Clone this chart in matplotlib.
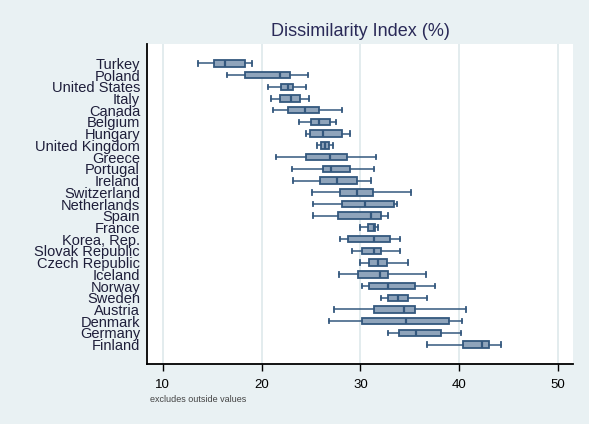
import matplotlib
matplotlib.use("Agg")
import matplotlib.pyplot as plt

countries = ["Turkey", "Poland", "United States", "Italy", "Canada", "Belgium",
             "Hungary", "United Kingdom", "Greece", "Portugal", "Ireland",
             "Switzerland", "Netherlands", "Spain", "France", "Korea, Rep.",
             "Slovak Republic", "Czech Republic", "Iceland", "Norway", "Sweden",
             "Austria", "Denmark", "Germany", "Finland"]
whisker_low = [13.6, 16.45, 20.6, 20.9, 21.2, 23.8, 24.5, 25.6, 21.45, 23.05, 23.15,
               25.05, 25.2, 25.2, 29.95, 27.9, 29.15, 30.0, 27.8, 30.2, 32.1,
               27.35, 26.8, 32.8, 36.75]
q1 = [15.15, 18.3, 22.0, 21.9, 22.7, 25.0, 24.9, 26.05, 24.45, 26.2, 25.9,
      27.9, 28.1, 27.75, 30.8, 28.75, 30.15, 30.9, 29.75, 30.9, 32.8,
      31.35, 30.2, 33.9, 40.35]
median = [16.3, 21.9, 22.7, 23.0, 24.35, 25.8, 26.2, 26.4, 26.9, 27.0, 27.65,
          29.65, 30.5, 31.05, 31.35, 31.35, 31.4, 31.8, 31.95, 32.8, 33.8,
          34.35, 34.65, 35.6, 42.25]
q3 = [18.35, 22.9, 23.2, 23.9, 25.8, 26.9, 28.1, 26.8, 28.65, 28.95, 29.65,
      31.3, 33.4, 32.1, 31.5, 32.95, 32.1, 32.7, 32.8, 35.55, 34.8,
      35.55, 39.0, 38.1, 42.95]
whisker_high = [19.05, 24.65, 24.5, 24.8, 28.1, 27.5, 28.95, 27.2, 31.6, 31.35, 31.1,
                35.1, 33.65, 32.8, 31.8, 33.95, 33.95, 34.8, 36.65, 37.55, 36.75,
                40.65, 40.25, 40.2, 44.25]
x_ticks = [10, 20, 30, 40, 50]

bg = "#e9f1f3"
fill = "#8fa4bb"
edge = "#34587e"

plt.rcParams["font.family"] = ["Liberation Sans", "DejaVu Sans"]

fig = plt.figure(figsize=(5.89, 4.24), dpi=100, facecolor=bg)
ax = fig.add_axes([147/589, 1 - 364/424, (573.3 - 147)/589, (364 - 44)/424])
ax.set_facecolor("white")

n = len(countries)
positions = [n - 1 - i for i in range(n)]
stats = []
for i in range(n):
    stats.append(dict(whislo=whisker_low[i], q1=q1[i], med=median[i],
                      q3=q3[i], whishi=whisker_high[i], label=countries[i]))

ax.bxp(stats, positions=positions, vert=False, widths=0.55, patch_artist=True,
       showfliers=False,
       boxprops=dict(facecolor=fill, edgecolor=edge, linewidth=1.3),
       medianprops=dict(color=edge, linewidth=1.6),
       whiskerprops=dict(color=edge, linewidth=1.1),
       capprops=dict(color=edge, linewidth=1.3),
       capwidths=0.38)

ax.set_xlim(8.41, 51.52)
ax.set_ylim(-1.65, n - 1 + 1.65)
ax.set_xticks(x_ticks)
ax.set_xticklabels([str(t) for t in x_ticks])
ax.set_yticks(positions)
ax.set_yticklabels(countries, color="#1e1e3a", fontsize=10.5)
ax.tick_params(axis="y", length=0, pad=5)
ax.tick_params(axis="x", length=5, width=1, pad=6, labelsize=9.5, color="black")
ax.grid(axis="x", color="#e3ecee", linewidth=1.4)
ax.set_axisbelow(True)
for s in ["top", "right"]:
    ax.spines[s].set_visible(False)
for s in ["left", "bottom"]:
    ax.spines[s].set_linewidth(1.3)
    ax.spines[s].set_color("black")

fig.text(360/589, 1 - 31/424, "Dissimilarity Index (%)", ha="center", va="center",
         fontsize=13, color="#2a2a58")
fig.text(150/589, 1 - 399/424, "excludes outside values", ha="left", va="center",
         fontsize=6.5, color="#444444")

fig.savefig("out.png", dpi=100, facecolor=bg)
